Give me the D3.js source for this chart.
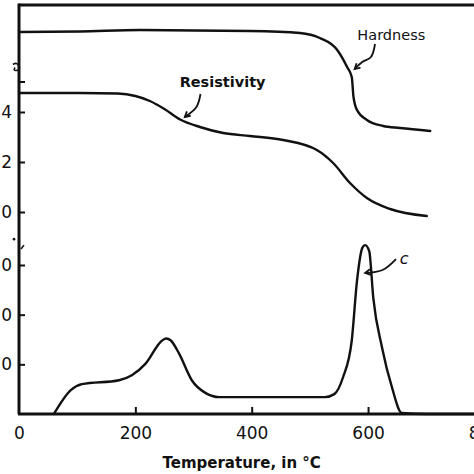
<!DOCTYPE html>
<html>
<head>
<meta charset="utf-8">
<script src="https://cdn.jsdelivr.net/npm/d3@7"></script>
<style>
  body { margin: 0; background: #fff; }
  svg { display: block; }
  .curve { fill: none; stroke: #111; stroke-width: 2.4; stroke-linejoin: round; stroke-linecap: round; }
  .frame { stroke: #111; stroke-width: 3; fill: none; }
  .axis path { display: none; }
  .axis line { stroke: #111; stroke-width: 2; }
  .axis text { font-family: "DejaVu Sans", sans-serif; fill: #111; }
  .lbl { font-family: "DejaVu Sans", sans-serif; fill: #111; }
</style>
</head>
<body>
<div id="chart"></div>
<script>
const width = 474
const height = 474

// temperature (°C) values
const hardnessT = [0, 105, 208, 397, 483, 517, 547, 564, 572, 575, 581, 598, 626, 655, 707]
const hardnessV = [1.72, 1.722, 1.728, 1.724, 1.716, 1.696, 1.648, 1.58, 1.54, 1.46, 1.408, 1.368, 1.344, 1.336, 1.324]

const resistT = [0, 105, 170, 200, 225, 250, 277, 311, 351, 397, 454, 512, 540, 569, 598, 638, 701]
const resistV = [1.476, 1.476, 1.474, 1.464, 1.444, 1.412, 1.37, 1.34, 1.316, 1.304, 1.288, 1.248, 1.196, 1.116, 1.056, 1.012, 0.984]

const cT = [60, 89, 108, 172, 194, 218, 246, 253, 261, 275, 297, 321, 344, 447, 526, 542, 557, 572, 581, 590, 595, 602, 609, 624, 641, 658, 700, 800]
const cV = [0, 4.8, 6, 6.8, 7.8, 10.2, 14.8, 15.2, 14.8, 12.2, 6.8, 4.2, 3.4, 3.4, 3.4, 4, 7.4, 14.8, 26.8, 33.4, 34, 32.8, 23.4, 13.4, 5.4, 0.2, 0, 0]

const xTicks = [0, 200, 400, 600, 800]
const upperTicks = [1.0, 1.2, 1.4]
const upperTickLabels = ["1.0", "1.2", "1.4"]
const lowerTicks = [10, 20, 30]
const lowerTickLabels = ["10", "20", "30"]

const margins = { top: 5, left: 19, bottom: 414 }

const svg = d3.select("#chart")
    .append("svg")
    .attr("width", width)
    .attr("height", height)

const x = d3.scaleLinear().domain([0, 800]).range([19, 484.4])
const yUpper = d3.scaleLinear().domain([1.0, 1.4]).range([212, 112])
const yLower = d3.scaleLinear().domain([0, 30]).range([414, 265])

// frame: top border, left axis, bottom axis
svg.append("line").attr("class", "frame")
    .attr("x1", margins.left).attr("x2", width)
    .attr("y1", margins.top).attr("y2", margins.top)
svg.append("line").attr("class", "frame")
    .attr("x1", margins.left).attr("x2", margins.left)
    .attr("y1", margins.top - 1.5).attr("y2", margins.bottom)
svg.append("line").attr("class", "frame")
    .attr("x1", margins.left - 1).attr("x2", width)
    .attr("y1", margins.bottom).attr("y2", margins.bottom)

// x axis
const xAxis = svg.append("g")
    .attr("class", "axis")
    .attr("transform", `translate(0,${margins.bottom})`)
    .call(d3.axisBottom(x).tickValues(xTicks).tickSizeInner(-7).tickSizeOuter(0).tickPadding(13).tickFormat(d3.format("d")))
xAxis.selectAll("text").style("font-size", "17px")
xAxis.selectAll(".tick").filter(d => d === 0).select("line").remove()

svg.append("text")
    .attr("class", "lbl")
    .attr("x", x(400) - 10)
    .attr("y", 468)
    .attr("text-anchor", "middle")
    .style("font-size", "15px")
    .style("font-weight", "bold")
    .text("Temperature, in °C")

// left axes (ticks point inward, labels cut off at the left edge)
const upperAxis = svg.append("g")
    .attr("class", "axis")
    .attr("transform", `translate(${margins.left},0)`)
    .call(d3.axisLeft(yUpper).tickValues(upperTicks).tickSizeInner(-6).tickSizeOuter(0).tickPadding(7)
        .tickFormat((d, i) => upperTickLabels[i]))
upperAxis.selectAll("text").style("font-size", "17px")

const lowerAxis = svg.append("g")
    .attr("class", "axis")
    .attr("transform", `translate(${margins.left},0)`)
    .call(d3.axisLeft(yLower).tickValues(lowerTicks).tickSizeInner(-6).tickSizeOuter(0).tickPadding(7)
        .tickFormat((d, i) => lowerTickLabels[i]))
lowerAxis.selectAll("text").style("font-size", "17px")

// extra small tick and break marks on the left axis
svg.append("line")
    .attr("x1", margins.left).attr("x2", margins.left + 6)
    .attr("y1", yUpper(1.52)).attr("y2", yUpper(1.52))
    .style("stroke", "#111").style("stroke-width", 2)
svg.append("path")
    .attr("d", `M${margins.left - 6},${yUpper(1.59)} q4,-3 6,2 q2,4 -3,4 q-3,0 -1,-3`)
    .style("fill", "none").style("stroke", "#111").style("stroke-width", 1.6)
svg.append("circle")
    .attr("cx", margins.left - 5).attr("cy", yLower(35.2)).attr("r", 1.3)
    .style("fill", "#111")
svg.append("line")
    .attr("x1", margins.left + 2).attr("x2", margins.left + 5)
    .attr("y1", yLower(33.2)).attr("y2", yLower(34))
    .style("stroke", "#111").style("stroke-width", 1.6)

// curves
const line = d3.line().curve(d3.curveMonotoneX)

svg.append("path")
    .attr("class", "curve")
    .attr("d", line(hardnessT.map((t, i) => [x(t), yUpper(hardnessV[i])])))
svg.append("path")
    .attr("class", "curve")
    .attr("d", line(resistT.map((t, i) => [x(t), yUpper(resistV[i])])))
svg.append("path")
    .attr("class", "curve")
    .attr("d", line(cT.map((t, i) => [x(t), yLower(cV[i])])))

// labels with arrows
const arrowLine = d3.line().curve(d3.curveCatmullRom.alpha(0.5))
function arrow(points) {
    svg.append("path").attr("d", arrowLine(points))
        .style("fill", "none").style("stroke", "#111").style("stroke-width", 1.8)
    const [x1, y1] = points[points.length - 2]
    const [x2, y2] = points[points.length - 1]
    const a = Math.atan2(y2 - y1, x2 - x1)
    const s = 6
    svg.append("path")
        .attr("d", `M${x2 - s * Math.cos(a - 0.5)},${y2 - s * Math.sin(a - 0.5)} L${x2},${y2} L${x2 - s * Math.cos(a + 0.5)},${y2 - s * Math.sin(a + 0.5)}`)
        .style("fill", "none").style("stroke", "#111").style("stroke-width", 1.8)
}

svg.append("text").attr("class", "lbl")
    .attr("x", x(640)).attr("y", yUpper(1.688))
    .attr("text-anchor", "middle")
    .style("font-size", "14.5px")
    .style("font-weight", "500")
    .text("Hardness")
arrow([[x(612), yUpper(1.672)], [x(605), yUpper(1.62)], [x(590), yUpper(1.6)], [x(577), yUpper(1.572)]])

svg.append("text").attr("class", "lbl")
    .attr("x", x(350)).attr("y", yUpper(1.5))
    .attr("text-anchor", "middle")
    .style("font-size", "14.5px")
    .style("font-weight", "bold")
    .text("Resistivity")
arrow([[x(312), yUpper(1.472)], [x(305), yUpper(1.42)], [x(285), yUpper(1.38)]])

svg.append("text").attr("class", "lbl")
    .attr("x", x(662)).attr("y", yLower(30.2))
    .attr("text-anchor", "middle")
    .style("font-size", "16px")
    .style("font-style", "italic")
    .text("c")
arrow([[x(648), yLower(31.2)], [x(625), yLower(29)], [x(595), yLower(28.4)]])
</script>
</body>
</html>
